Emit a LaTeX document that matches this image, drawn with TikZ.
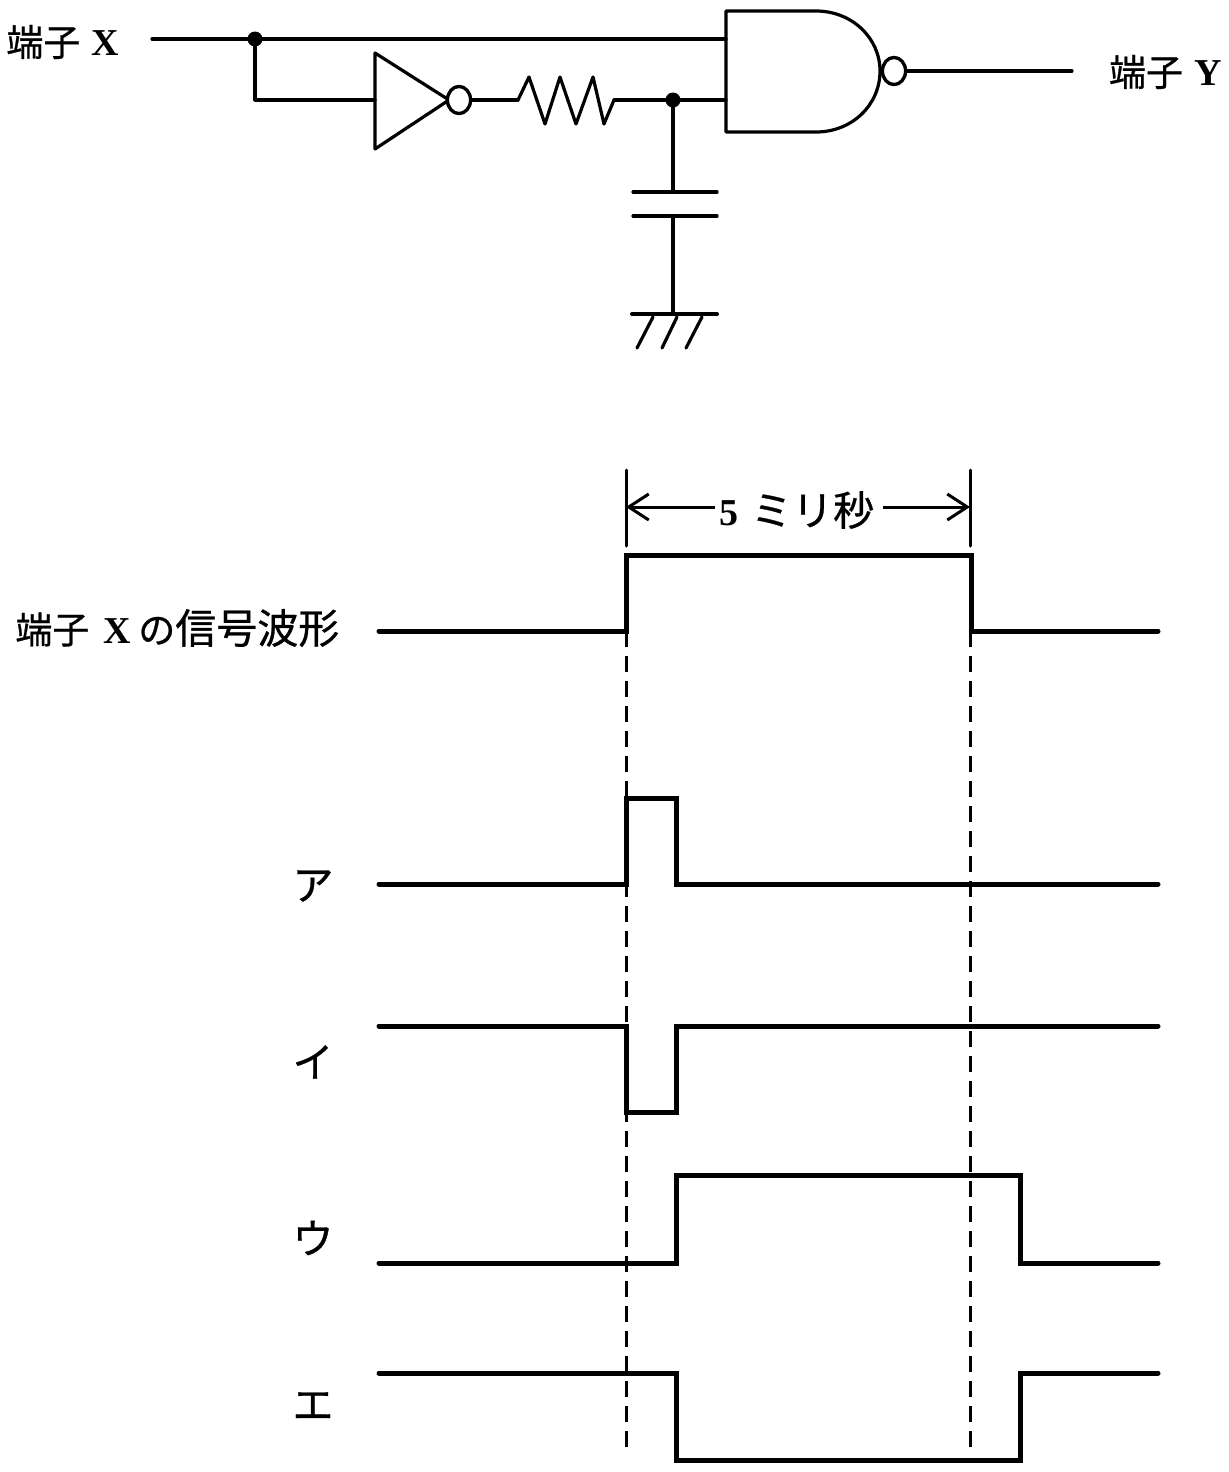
\documentclass[tikz,border=0pt]{standalone}
\usepackage{fontspec}
\setmainfont{Liberation Serif}
\newfontfamily\cjkfont[FakeBold=0.7]{Noto Sans CJK JP}
\usetikzlibrary{shapes.geometric,arrows.meta}
\newcommand{\latinbf}[1]{{\fontsize{19}{20}\selectfont\bfseries\rmfamily #1}}
\tikzset{
  wire/.style={line width=1.6pt,line cap=round,line join=round},
  sig/.style={line width=2.5pt,line cap=round,line join=miter},
  guide/.style={line width=1.5pt,dash pattern=on 8pt off 4.5pt},
  tick/.style={line width=1.5pt,line cap=round},
  dim/.style={line width=1.5pt,-{Straight Barb[length=10pt,width=13pt,line width=1.5pt]}},
  dot/.style={circle,fill=black,inner sep=0pt,minimum size=7.5pt},
  bubble/.style={ellipse,draw,line width=1.6pt,fill=white,inner sep=0pt,minimum width=11.5pt,minimum height=13.5pt},
  lab/.style={inner sep=0pt,font=\fontsize{18.5}{20}\selectfont\cjkfont},
  kana/.style={inner sep=0pt,font=\fontsize{20.5}{22}\selectfont\cjkfont},
}
\begin{document}
\begin{tikzpicture}[x=0.5pt,y=-0.5pt]
\useasboundingbox (0,0) rectangle (1228,1472);
% circuit anchors
\coordinate (xin) at (152,39);
\coordinate (nandA) at (726,39);
\coordinate (corner) at (255,100);
\coordinate (invIn) at (375,100);
\coordinate (resL) at (518,100);
\coordinate (resR) at (614,100);
\coordinate (nandB) at (726,100);
\coordinate (capT) at (673,192);
\coordinate (capB) at (673,216);
\coordinate (gnd) at (673,314);
\coordinate (yout) at (1072,71);
\node[dot] (j1) at (255,39) {};
\node[dot] (j2) at (673,100) {};
\node[bubble] (b1) at (459,100) {};
\node[bubble] (b2) at (894,71) {};
% wires
\draw[wire] (xin) -- (j1) -- (nandA);
\draw[wire] (j1) -- (corner) -- (invIn);
\draw[wire] (b1) -- (resL);
\draw[wire] (resL) -- (529,77) -- (545,124) -- (560,77) -- (576,124) -- (593,77) -- (604,124) -- (resR);
\draw[wire] (resR) -- (j2) -- (nandB);
\draw[wire] (j2) -- (capT);
\draw[wire] (capB) -- (gnd);
\draw[wire] (b2) -- (yout);
% inverter
\draw[wire] (invIn) -- (375,53) -- (449,100) -- (375,149) -- cycle;
\node[bubble] at (b1) {};
% NAND
\draw[wire] (726,11) -- (816,11) .. controls (852,11) and (880,38) .. (880,71)
  .. controls (880,105) and (852,132) .. (816,132) -- (726,132) -- cycle;
\node[bubble] at (b2) {};
% capacitor, ground
\draw[wire] (633,192) -- (717,192);
\draw[wire] (633,216) -- (717,216);
\draw[wire,line width=2pt] (632,314) -- (717,314);
\draw[wire] (653,317) -- (637,348);
\draw[wire] (677,317) -- (662,348);
\draw[wire] (702,317) -- (686,348);
% circuit labels
\node[lab,anchor=west] (lx) at (6,42) {端子\hspace{0.3em}\latinbf{X}};
\node[lab,anchor=east] (ly) at (1222,72) {端子\hspace{0.3em}\latinbf{Y}};
% dimension
\coordinate (tL0) at (626,470);
\coordinate (tL1) at (626,546);
\coordinate (tR0) at (970,470);
\coordinate (tR1) at (970,546);
\draw[tick] (tL0) -- (tL1);
\draw[tick] (tR0) -- (tR1);
\node[kana] (dimt) at (797,510) {\latinbf{5}\hspace{0.3em}ミリ秒};
\coordinate (aL) at (626,507);
\coordinate (aR) at (970,507);
\draw[dim] (715,507) -- (aL);
\draw[dim] (883,507) -- (aR);
% guides
\coordinate (gL0) at (626,631);
\coordinate (gL1) at (626,1450);
\coordinate (gR0) at (970,631);
\coordinate (gR1) at (970,1450);
\draw[guide] (gL0) -- (gL1);
\draw[guide] (gR0) -- (gR1);
% signals
\draw[sig] (379,631) -- (626,631) -- (626,555) -- (971,555) -- (971,631) -- (1158,631);
\draw[sig] (379,884) -- (626,884) -- (626,798) -- (676,798) -- (676,884) -- (1158,884);
\draw[sig] (379,1026) -- (626,1026) -- (626,1112) -- (676,1112) -- (676,1026) -- (1158,1026);
\draw[sig] (379,1263) -- (676,1263) -- (676,1175) -- (1020,1175) -- (1020,1263) -- (1158,1263);
\draw[sig] (379,1373) -- (676,1373) -- (676,1460) -- (1020,1460) -- (1020,1373) -- (1158,1373);
% signal labels
\node[lab,anchor=west] (lsig) at (15,628) {端子\hspace{0.38em}\latinbf{X}\hspace{0.2em}の{\fontsize{20.5}{22}\selectfont 信号波形}};
\node[kana] (la) at (313,886) {ア};
\node[kana] (li) at (313,1062) {イ};
\node[kana] (lu) at (313,1238) {ウ};
\node[kana] (le) at (313,1406) {エ};
\end{tikzpicture}
\end{document}
